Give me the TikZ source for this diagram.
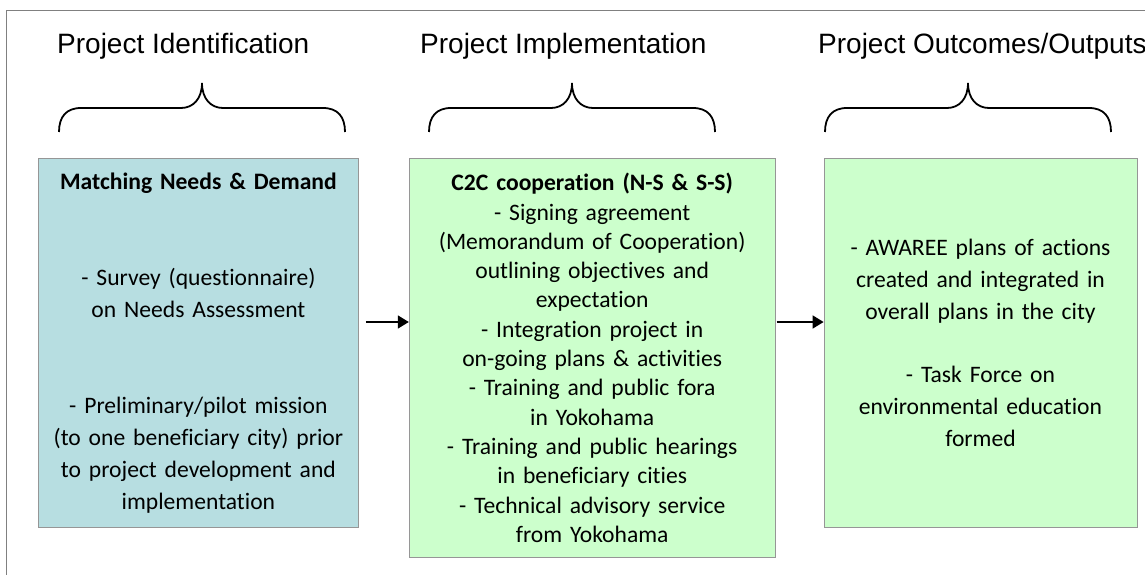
\documentclass[tikz,border=0pt]{standalone}
\usepackage{fontspec}
\setmainfont{Carlito}[Ligatures={NoCommon,NoRare,NoContextual}, Contextuals={NoAlternate}]
\newfontfamily\headfont{Liberation Sans}
\usetikzlibrary{arrows.meta,positioning}
\definecolor{bluefill}{RGB}{183,222,225}
\definecolor{greenfill}{RGB}{204,255,204}
\definecolor{edgegray}{RGB}{150,150,150}

\begin{document}
\begin{tikzpicture}[x=1pt,y=-1pt]
    \tikzset{block/.style= {draw=edgegray, rectangle
    , line width=0.8pt
    , inner sep=0pt
    , align=center
    , font=\fontsize{23.6}{32}\selectfont
      }
    , heading/.style={font=\headfont\fontsize{28}{34}\selectfont
    , anchor=base west, inner sep=0pt}
    , bracket/.style={line width=1.8pt}
    , flow/.style={line width=1.7pt, -{Triangle[length=11pt,width=13pt]}}
    }

\useasboundingbox (0,0) rectangle (1145,575);
\draw[gray] (6,575) |- (1145,10);

\node [heading] (idtitle) at (57,54) {Project Identification};
\node [heading] (imtitle) at (420,54) {Project Implementation};
\node [heading] (outitle) at (818,54) {Project Outcomes/Outputs};

\foreach \t in {202,572,968}
  \draw[bracket] (\t-143,132) .. controls (\t-143,117) and (\t-136,108) .. (\t-121,108)
    -- (\t-21,108) .. controls (\t-9,108) and (\t,99) .. (\t,83)
    .. controls (\t,99) and (\t+9,108) .. (\t+21,108)
    -- (\t+121,108) .. controls (\t+136,108) and (\t+143,117) .. (\t+143,132);

\node [block, fill=bluefill, anchor=north west, text width=320pt, minimum height=369pt]
  (ident) at (38,158) {\textbf{Matching Needs \& Demand}\\[64pt]
  - Survey (questionnaire)\\ on Needs Assessment\\[64pt]
  - Preliminary/pilot mission\\ (to one beneficiary city) prior\\
  to project development and\\ implementation};
\node [block, fill=greenfill, right=50pt of ident.north east, anchor=north west
  , text width=366pt, minimum height=399pt, font=\fontsize{23.6}{29.3}\selectfont]
  (impl) {\textbf{C2C cooperation (N-S \& S-S)}\\ - Signing agreement\\
  (Memorandum of Cooperation)\\ outlining objectives and\\ expectation\\
  - Integration project in\\ on-going plans \& activities\\
  - Training and public fora\\ in Yokohama\\
  - Training and public hearings\\ in beneficiary cities\\
  - Technical advisory service\\ from Yokohama};
\node [block, fill=greenfill, right=48pt of impl.north east, anchor=north west
  , text width=313pt, minimum height=369pt, font=\fontsize{23.6}{31.7}\selectfont]
  (outc) {- AWAREE plans of actions\\ created and integrated in\\
  overall plans in the city\\[31.7pt]
  - Task Force on\\ environmental education\\ formed};

\coordinate (arrowrow) at (0,322);
 \path[draw, flow, shorten <=7pt]
  (ident.east |- arrowrow) -- (impl.west |- arrowrow);
 \path[draw, flow, shorten <=1pt]
  (impl.east |- arrowrow) -- (outc.west |- arrowrow);
\end{tikzpicture}
\end{document}
